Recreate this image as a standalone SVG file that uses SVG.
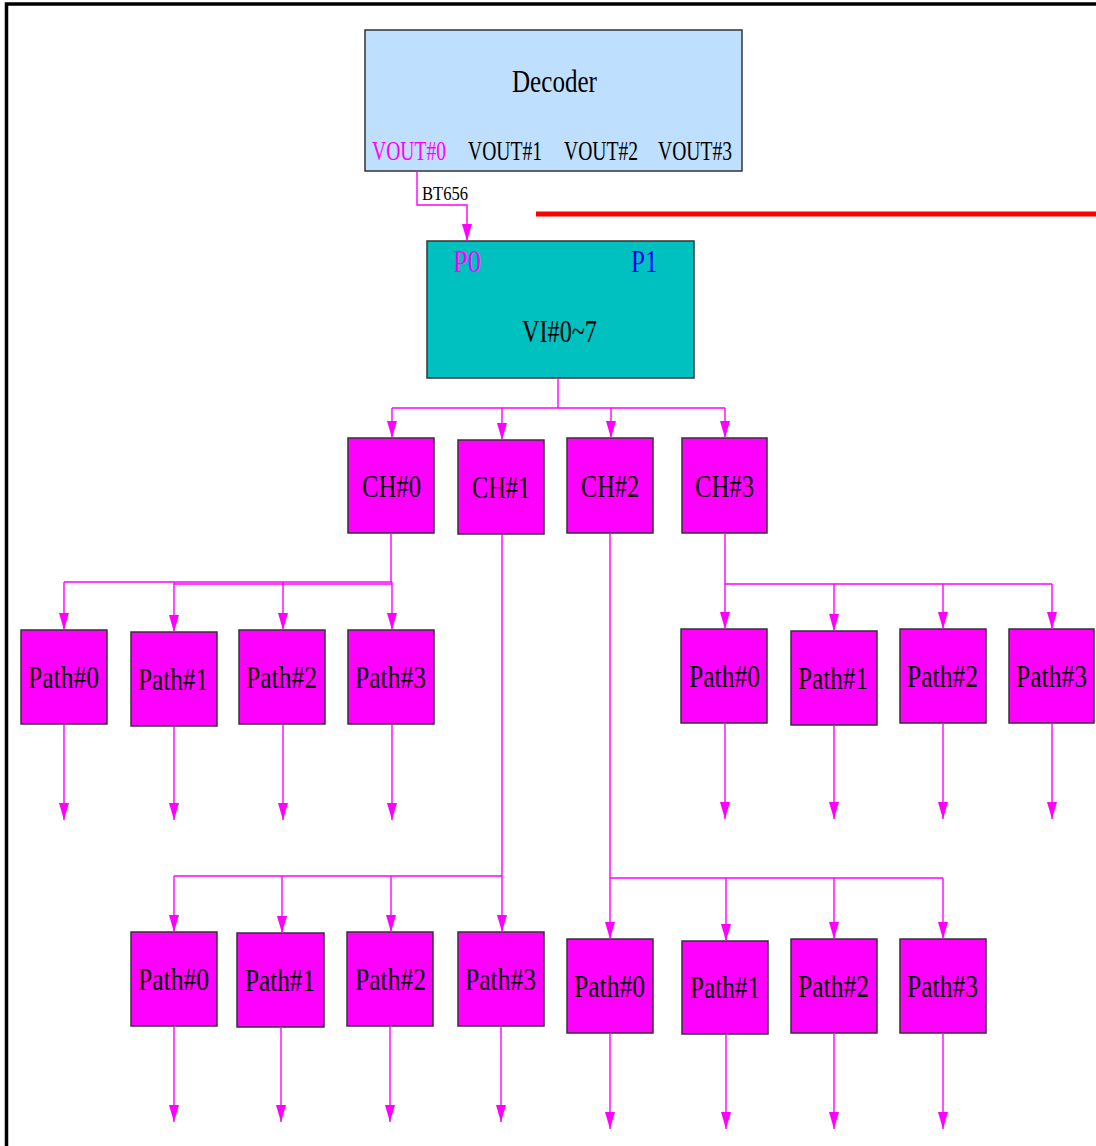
<svg xmlns="http://www.w3.org/2000/svg" width="1096" height="1146" viewBox="0 0 1096 1146">
<defs>
<marker id="ah" markerUnits="userSpaceOnUse" markerWidth="18" markerHeight="11" refX="17" refY="5" orient="auto">
<path d="M0,0 L17,5 L0,10 z" fill="#FF00FF"/>
</marker>
<style>
.box{stroke:#333;stroke-width:1.5}
.path{fill:#FF00FF}
.t{font-family:"Liberation Serif","Times New Roman",serif;fill:#000}
.pt{font-size:31px}
.ct{font-size:32px}
.c{fill:none;stroke:#FF00FF;stroke-width:1.4}
.a{marker-end:url(#ah)}
</style>
</defs>
<rect width="1096" height="1146" fill="#fff"/>
<path d="M6.5,1146 V4 H1096" fill="none" stroke="#000" stroke-width="3.5"/>
<line x1="536" y1="214" x2="1096" y2="214" stroke="#FF0000" stroke-width="5"/>

<g id="decoder">
<rect class="box" x="365" y="30" width="377" height="141" fill="#BFDFFF"/>
<text class="t" font-size="32" transform="translate(512,92) scale(0.784,1)">Decoder</text>
<text class="t" font-size="28" transform="translate(372,160) scale(0.7,1)" style="fill:#FF00FF">VOUT#0</text>
<text class="t" font-size="28" transform="translate(468,160) scale(0.7,1)">VOUT#1</text>
<text class="t" font-size="28" transform="translate(564,160) scale(0.7,1)">VOUT#2</text>
<text class="t" font-size="28" transform="translate(658,160) scale(0.7,1)">VOUT#3</text>
</g>

<g id="vi">
<rect class="box" x="427" y="241" width="267" height="137" fill="#00C0C0"/>
<text class="t" font-size="32" transform="translate(453,272) scale(0.83,1)" style="fill:#FF00FF">P0</text>
<text class="t" font-size="32" transform="translate(631,272) scale(0.78,1)" style="fill:#0000FF">P1</text>
<text class="t" font-size="32" transform="translate(522,342) scale(0.757,1)">VI#0~7</text>
</g>

<g id="ch0"><rect class="box path" x="348" y="438" width="86" height="95"/><text class="t ct" transform="translate(362,497) scale(0.772,1)">CH#0</text></g>
<g id="ch1"><rect class="box path" x="458" y="440" width="86" height="94"/><text class="t ct" transform="translate(472,498) scale(0.76,1)">CH#1</text></g>
<g id="ch2"><rect class="box path" x="567" y="438" width="86" height="95"/><text class="t ct" transform="translate(581,497) scale(0.76,1)">CH#2</text></g>
<g id="ch3"><rect class="box path" x="682" y="438" width="85" height="95"/><text class="t ct" transform="translate(695,497) scale(0.772,1)">CH#3</text></g>

<g id="ch0-path0"><rect class="box path" x="21" y="630" width="86" height="94"/><text class="t pt" transform="translate(28,688) scale(0.825,1)">Path#0</text></g>
<g id="ch0-path1"><rect class="box path" x="131" y="632" width="86" height="94"/><text class="t pt" transform="translate(138,690) scale(0.813,1)">Path#1</text></g>
<g id="ch0-path2"><rect class="box path" x="239" y="630" width="86" height="94"/><text class="t pt" transform="translate(246,688) scale(0.825,1)">Path#2</text></g>
<g id="ch0-path3"><rect class="box path" x="348" y="630" width="86" height="94"/><text class="t pt" transform="translate(355,688) scale(0.825,1)">Path#3</text></g>

<g id="ch3-path0"><rect class="box path" x="681" y="629" width="86" height="94"/><text class="t pt" transform="translate(689,687) scale(0.825,1)">Path#0</text></g>
<g id="ch3-path1"><rect class="box path" x="791" y="631" width="86" height="94"/><text class="t pt" transform="translate(798,689) scale(0.813,1)">Path#1</text></g>
<g id="ch3-path2"><rect class="box path" x="900" y="629" width="86" height="94"/><text class="t pt" transform="translate(907,687) scale(0.825,1)">Path#2</text></g>
<g id="ch3-path3"><rect class="box path" x="1009" y="629" width="85" height="94"/><text class="t pt" transform="translate(1016,687) scale(0.825,1)">Path#3</text></g>

<g id="ch1-path0"><rect class="box path" x="131" y="932" width="86" height="94"/><text class="t pt" transform="translate(138,990) scale(0.825,1)">Path#0</text></g>
<g id="ch1-path1"><rect class="box path" x="237" y="933" width="87" height="94"/><text class="t pt" transform="translate(245,991) scale(0.813,1)">Path#1</text></g>
<g id="ch1-path2"><rect class="box path" x="347" y="932" width="86" height="94"/><text class="t pt" transform="translate(355,990) scale(0.825,1)">Path#2</text></g>
<g id="ch1-path3"><rect class="box path" x="458" y="932" width="86" height="94"/><text class="t pt" transform="translate(465,990) scale(0.825,1)">Path#3</text></g>

<g id="ch2-path0"><rect class="box path" x="567" y="939" width="86" height="94"/><text class="t pt" transform="translate(574,997) scale(0.825,1)">Path#0</text></g>
<g id="ch2-path1"><rect class="box path" x="682" y="941" width="86" height="93"/><text class="t pt" transform="translate(690,998) scale(0.813,1)">Path#1</text></g>
<g id="ch2-path2"><rect class="box path" x="791" y="939" width="86" height="94"/><text class="t pt" transform="translate(798,997) scale(0.825,1)">Path#2</text></g>
<g id="ch2-path3"><rect class="box path" x="900" y="939" width="86" height="94"/><text class="t pt" transform="translate(907,997) scale(0.825,1)">Path#3</text></g>

<g id="connectors">
<path class="c a" d="M417,171 V205 H467 V241"/>
<text class="t" font-size="18" transform="translate(422,200) scale(0.92,1)">BT656</text>

<path class="c" d="M558,378 V408 M392,408 H725"/>
<path class="c a" d="M392,408 V438"/>
<path class="c a" d="M502,408 V440"/>
<path class="c a" d="M611,408 V438"/>
<path class="c a" d="M725,408 V438"/>

<path class="c" d="M391,533 V582 M64,582 H392 M174,584 H392"/>
<path class="c a" d="M64,582 V630"/>
<path class="c a" d="M174,582 V632"/>
<path class="c a" d="M283,582 V630"/>
<path class="c a" d="M392,582 V630"/>

<path class="c" d="M725,533 V584 M725,584 H1052"/>
<path class="c a" d="M725,584 V629"/>
<path class="c a" d="M834,584 V631"/>
<path class="c a" d="M943,584 V629"/>
<path class="c a" d="M1052,584 V629"/>

<path class="c" d="M502,534 V876 M174,876 H502"/>
<path class="c a" d="M174,876 V932"/>
<path class="c a" d="M282,876 V933"/>
<path class="c a" d="M391,876 V932"/>
<path class="c a" d="M502,876 V932"/>

<path class="c" d="M610,533 V878 M610,878 H943"/>
<path class="c a" d="M610,878 V939"/>
<path class="c a" d="M726,878 V941"/>
<path class="c a" d="M834,878 V939"/>
<path class="c a" d="M943,878 V939"/>

<path class="c a" d="M64,724 V820"/>
<path class="c a" d="M174,726 V820"/>
<path class="c a" d="M283,724 V820"/>
<path class="c a" d="M392,724 V820"/>
<path class="c a" d="M725,723 V819"/>
<path class="c a" d="M834,725 V819"/>
<path class="c a" d="M943,723 V819"/>
<path class="c a" d="M1052,723 V819"/>

<path class="c a" d="M174,1026 V1122"/>
<path class="c a" d="M281,1027 V1122"/>
<path class="c a" d="M390,1026 V1122"/>
<path class="c a" d="M501,1026 V1122"/>
<path class="c a" d="M610,1033 V1129"/>
<path class="c a" d="M726,1034 V1129"/>
<path class="c a" d="M834,1033 V1129"/>
<path class="c a" d="M943,1033 V1129"/>
</g>
</svg>
